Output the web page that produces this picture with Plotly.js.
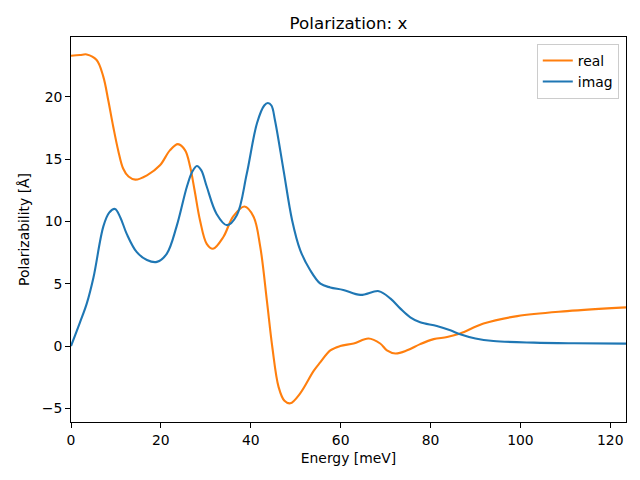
<!DOCTYPE html>
<html>
<head>
<meta charset="utf-8">
<script src="https://cdn.plot.ly/plotly-3.0.1.min.js"></script>
<style>html,body{margin:0;padding:0;background:#fff;}#chart{width:640px;height:480px;}</style>
</head>
<body>
<div id="chart"></div>
<script>
const realX = [0, 2, 3.5, 5.7, 7.2, 8.3, 9.4, 10.5, 11.6, 12.8, 14.3, 16.9, 19.8, 22, 23.8, 25.4, 26.5, 27.5, 28.7, 30.2, 31.6, 33.9, 36.1, 38.6, 40.6, 42.1, 43.6, 44.8, 46.2, 47.5, 48.8, 51, 54, 55.5, 57.7, 59.9, 62.9, 66.2, 68.8, 70.3, 72.2, 74.8, 77.7, 80.7, 83.7, 86.6, 91.8, 99.3, 110.4, 123.5];
const realY = [23.3, 23.35, 23.4, 22.95, 21.6, 19.7, 17.6, 15.7, 14.25, 13.6, 13.35, 13.7, 14.5, 15.7, 16.2, 15.7, 14.4, 12.5, 10.1, 8.2, 7.8, 8.75, 10.4, 11.2, 10.4, 8.0, 3.6, -0.1, -3.3, -4.4, -4.6, -3.8, -2.0, -1.3, -0.35, 0.0, 0.2, 0.6, 0.2, -0.35, -0.6, -0.35, 0.15, 0.55, 0.72, 1.0, 1.8, 2.4, 2.8, 3.1];
const imagX = [0, 2, 3.5, 5, 7.2, 8.5, 9.8, 11, 12.4, 14.6, 16.9, 19.1, 21.3, 23.5, 25.8, 27, 28, 29, 30.2, 32.4, 34.7, 36.9, 39.1, 41.4, 43, 43.8, 44.6, 45.4, 47.3, 49.2, 51, 53.2, 55.5, 57.7, 60.6, 64.4, 68.5, 71.1, 73.3, 75.5, 77.7, 81.4, 84.4, 86.6, 90, 94, 103, 112, 123.5];
const imagY = [0, 1.9, 3.4, 5.5, 9.6, 10.7, 11.0, 10.3, 9.0, 7.55, 6.9, 6.75, 7.4, 9.6, 12.8, 14.0, 14.45, 14.1, 12.8, 10.6, 9.7, 10.5, 13.8, 17.9, 19.3, 19.5, 19.3, 18.1, 14.1, 10.1, 7.7, 6.1, 5.0, 4.7, 4.5, 4.1, 4.4, 3.8, 3.0, 2.3, 1.9, 1.6, 1.26, 0.94, 0.6, 0.4, 0.27, 0.22, 0.19];
const seriesNames = ['real', 'imag'];
const titleText = 'Polarization: x';
const xLabel = 'Energy [meV]';
const yLabel = 'Polarizability [Å]';

const font = {family: 'DejaVu Sans, sans-serif', color: '#000'};
const traces = [
  {x: realX, y: realY, name: seriesNames[0], type: 'scatter', mode: 'lines',
   line: {color: '#ff7f0e', width: 2.1, shape: 'spline', smoothing: 1}},
  {x: imagX, y: imagY, name: seriesNames[1], type: 'scatter', mode: 'lines',
   line: {color: '#1f77b4', width: 2.1, shape: 'spline', smoothing: 1}}
];
const axisCommon = {
  showline: true, linecolor: '#000', linewidth: 1, mirror: true,
  ticks: 'outside', ticklen: 4.9, tickwidth: 1, tickcolor: '#000',
  showgrid: false, zeroline: false,
  tickfont: {family: font.family, size: 13.9, color: '#000'}
};
const layout = {
  width: 640, height: 480,
  margin: {l: 71, r: 14.3, t: 37, b: 58.3},
  paper_bgcolor: '#fff', plot_bgcolor: '#fff',
  font: font,
  showlegend: true,
  title: {text: titleText, font: {family: font.family, size: 16.7, color: '#000'},
          x: 0.5, xref: 'paper', xanchor: 'center', y: 1, yref: 'paper', yanchor: 'bottom', pad: {b: 8}},
  xaxis: Object.assign({}, axisCommon, {range: [0, 123.5], tickvals: [0, 20, 40, 60, 80, 100, 120],
    title: {text: xLabel, font: {family: font.family, size: 13.9, color: '#000'}, standoff: 6}}),
  yaxis: Object.assign({}, axisCommon, {range: [-6.1, 24.8], tickvals: [-5, 0, 5, 10, 15, 20],
    title: {text: yLabel, font: {family: font.family, size: 13.9, color: '#000'}, standoff: 8}}),
  legend: {x: 0.987, y: 0.982, xanchor: 'right', yanchor: 'top', bgcolor: 'rgba(255,255,255,0.8)',
    bordercolor: '#cccccc', borderwidth: 1, font: {family: font.family, size: 13.9, color: '#000'},
    tracegroupgap: 0, itemwidth: 30}
};
Plotly.newPlot('chart', traces, layout, {displayModeBar: false, staticPlot: true});
</script>
</body>
</html>
